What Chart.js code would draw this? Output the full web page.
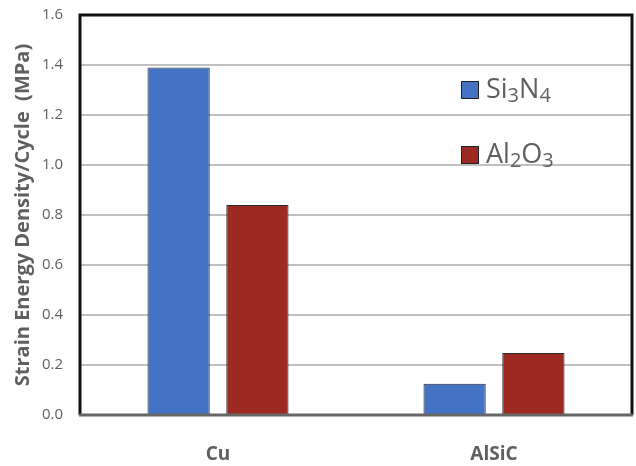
<!DOCTYPE html>
<html>
<head>
<meta charset="utf-8">
<script src="https://cdn.jsdelivr.net/npm/chart.js@4/dist/chart.umd.min.js"></script>
<style>
  html, body { margin: 0; padding: 0; background: #fff; }
  #wrap { width: 636px; height: 466px; }
</style>
</head>
<body>
<div id="wrap"><canvas id="chartBars"></canvas></div>
<script>
// data
const categories = ['Cu', 'AlSiC'];
const seriesNames = ['Si₃N₄', 'Al₂O₃'];
const si3n4Values = [1.39, 0.125];
const al2o3Values = [0.84, 0.248];
const yTicks = [0, 0.2, 0.4, 0.6, 0.8, 1.0, 1.2, 1.4, 1.6];

const colors = {
  blue: '#4472c4',
  red: '#9c2a22',
  grid: '#c0c0c0',
  text: '#5f5f5f',
};

const fontFamily = "'Open Sans', 'Liberation Sans', sans-serif";

// black box round the plot area, grey base line
const framePlugin = {
  id: 'frame',
  afterDatasetsDraw(chart) {
    const { ctx, chartArea: a } = chart;
    ctx.save();
    ctx.strokeStyle = '#111';
    ctx.lineWidth = 3;
    ctx.beginPath();
    ctx.moveTo(a.left, a.bottom);
    ctx.lineTo(a.left, a.top);
    ctx.lineTo(a.right, a.top);
    ctx.lineTo(a.right, a.bottom);
    ctx.stroke();
    ctx.strokeStyle = '#666';
    ctx.lineWidth = 3;
    ctx.beginPath();
    ctx.moveTo(a.left - 1, a.bottom);
    ctx.lineTo(a.right + 1, a.bottom);
    ctx.stroke();
    ctx.restore();
  }
};

// legend inside the plot, subscript digits drawn smaller and lower
const subMap = { '₀': '0', '₁': '1', '₂': '2', '₃': '3', '₄': '4', '₅': '5', '₆': '6', '₇': '7', '₈': '8', '₉': '9' };
function drawChem(ctx, text, x, y, size) {
  let cx = x;
  for (const ch of text) {
    const sub = subMap[ch];
    if (sub) {
      ctx.font = `${Math.round(size * 0.75)}px ${fontFamily}`;
      ctx.fillText(sub, cx, y + size * 0.22);
      cx += ctx.measureText(sub).width;
    } else {
      ctx.font = `${size}px ${fontFamily}`;
      ctx.fillText(ch, cx, y);
      cx += ctx.measureText(ch).width;
    }
  }
}

const legendPlugin = {
  id: 'innerLegend',
  afterDraw(chart) {
    const { ctx } = chart;
    const rows = [90, 155];
    ctx.save();
    ctx.textBaseline = 'middle';
    ctx.textAlign = 'left';
    chart.data.datasets.forEach((ds, i) => {
      const y = rows[i];
      const x = 461;
      ctx.fillStyle = ds.backgroundColor;
      ctx.fillRect(x, y - 9, 17, 17);
      ctx.strokeStyle = '#222';
      ctx.lineWidth = 1;
      ctx.strokeRect(x + 0.5, y - 8.5, 17, 17);
      ctx.fillStyle = colors.text;
      drawChem(ctx, ds.label, x + 25, y, 27);
    });
    ctx.restore();
  }
};

const configBars = {
  type: 'bar',
  data: {
    labels: categories,
    datasets: [
      {
        label: seriesNames[0],
        data: si3n4Values,
        backgroundColor: colors.blue,
        borderColor: '#2a2a2a',
        borderWidth: 1,
      },
      {
        label: seriesNames[1],
        data: al2o3Values,
        backgroundColor: colors.red,
        borderColor: '#2a2a2a',
        borderWidth: 1,
      },
    ],
  },
  options: {
    responsive: true,
    maintainAspectRatio: false,
    animation: false,
    categoryPercentage: 0.571,
    barPercentage: 0.79,
    layout: { padding: { top: 15, right: 4, left: 0, bottom: 0 } },
    plugins: {
      legend: { display: false },
      tooltip: { enabled: false },
    },
    scales: {
      x: {
        grid: { display: false },
        border: { display: false },
        ticks: {
          color: colors.text,
          padding: 20,
          font: { family: fontFamily, size: 19, weight: 'bold' },
        },
        afterFit(scale) {
          scale.height = 51;
          scale.paddingLeft = 0;
          scale.paddingRight = 0;
        },
      },
      y: {
        min: 0,
        max: 1.6,
        afterBuildTicks(scale) {
          scale.ticks = yTicks.map(v => ({ value: v }));
        },
        grid: {
          color: colors.grid,
          lineWidth: 2,
          drawTicks: false,
        },
        border: { display: false },
        ticks: {
          color: colors.text,
          padding: 17,
          font: { family: fontFamily, size: 15 },
          callback: v => Number(v).toFixed(1),
        },
        title: {
          display: true,
          text: 'Strain Energy Density/Cycle  (MPa)',
          color: colors.text,
          padding: { top: 11, bottom: 4 },
          font: { family: fontFamily, size: 20, weight: 'bold' },
        },
        afterFit(scale) {
          scale.width = 80;
          scale.paddingTop = 0;
          scale.paddingBottom = 0;
        },
      },
    },
  },
  plugins: [framePlugin, legendPlugin],
};

const chartBars = new Chart(document.getElementById('chartBars'), configBars);
</script>
</body>
</html>
